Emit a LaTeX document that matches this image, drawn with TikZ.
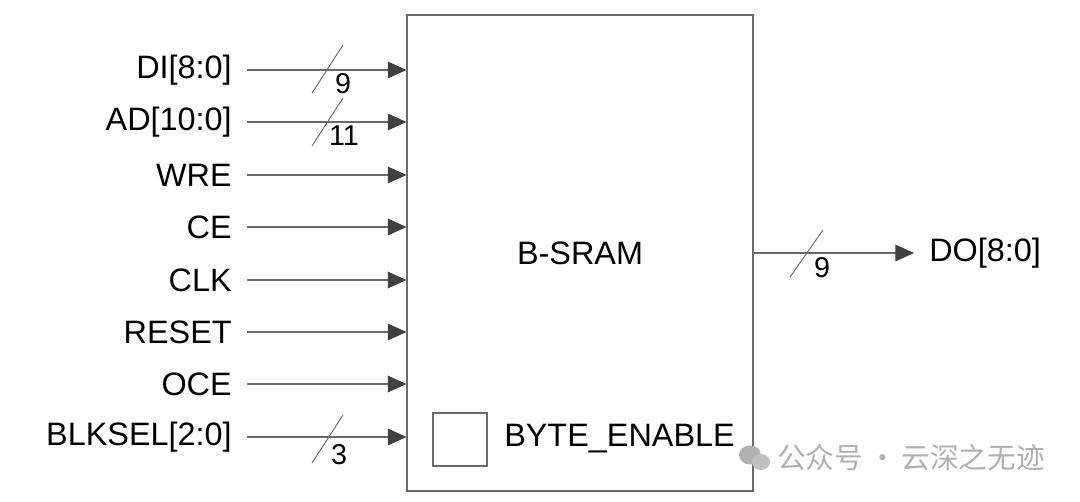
\documentclass[tikz,border=0pt]{standalone}
\usepackage{fontspec}
\setmainfont{Liberation Sans}
\newfontfamily\cjk{Noto Sans CJK SC}
\usetikzlibrary{arrows.meta,calc}
\definecolor{linegray}{HTML}{6A6A6A}
\definecolor{tipgray}{HTML}{404040}
\definecolor{wmgray}{HTML}{B0B0B0}
\tikzset{
  sig/.style={font=\fontsize{24.3}{28}\selectfont, anchor=east, inner sep=0pt},
  num/.style={font=\fontsize{21.5}{24}\selectfont, inner sep=0pt},
  wire/.style={draw=linegray, line width=0.8pt, -{Triangle[length=14pt,width=12.5pt,color=tipgray]}},
  bus/.style={draw=linegray, line width=0.7pt},
}
\begin{document}
\begin{tikzpicture}[x=0.75pt,y=-0.75pt]
\useasboundingbox (0,0) rectangle (1080,502);
% main block
\node[draw=linegray, line width=0.8pt, minimum width=259.5pt, minimum height=357pt, inner sep=0pt] (sram) at (580,253) {};
\node[font=\fontsize{24.3}{28}\selectfont, inner sep=0pt] (title) at (580,253) {B-SRAM};
\node[draw=linegray, line width=0.8pt, minimum width=40.5pt, minimum height=39.75pt, inner sep=0pt] (bebox) at (460,439.5) {};
\node[font=\fontsize{24.3}{28}\selectfont, anchor=west, inner sep=0pt] (belbl) at (504,439) {BYTE\_ENABLE};
% inputs
\foreach \nm/\txt/\y in {di/DI[8:0]/70, ad/AD[10:0]/122, wre/WRE/175, ce/CE/227, clk/CLK/280, rst/RESET/332, oce/OCE/384, blk/BLKSEL[2:0]/437}{
  \node[sig] (\nm) at (232,\y) {\txt};
  \draw[wire] ($(\nm.east)+(15,0)$) -- (sram.west |- \nm.east);
}
% bus slashes
\draw[bus] (312,93) -- (343,45);
\node[num] (ndi) at (343,84) {9};
\draw[bus] (312,146) -- (343,98);
\node[num] (nad) at (344,136) {11};
\draw[bus] (312,463) -- (343,415);
\node[num] (nblk) at (339,455) {3};
% output
\node[font=\fontsize{24.3}{28}\selectfont, anchor=west, inner sep=0pt] (do) at (929,253) {DO[8:0]};
\draw[wire] (sram.east |- do.west) -- ($(do.west)+(-15,0)$);
\draw[bus] (790,277) -- (823,230);
\node[num] (ndo) at (822,268) {9};
% watermark
\fill[wmgray] (750,455) ellipse (11 and 9.5);
\fill[wmgray!80!white] (761,462) ellipse (9 and 8);
\node[font=\cjk\fontsize{21.5}{24}\selectfont, text=wmgray, anchor=west, inner sep=0pt] (wm) at (777,458) {公众号\,·\,云深之无迹};
\end{tikzpicture}
\end{document}
